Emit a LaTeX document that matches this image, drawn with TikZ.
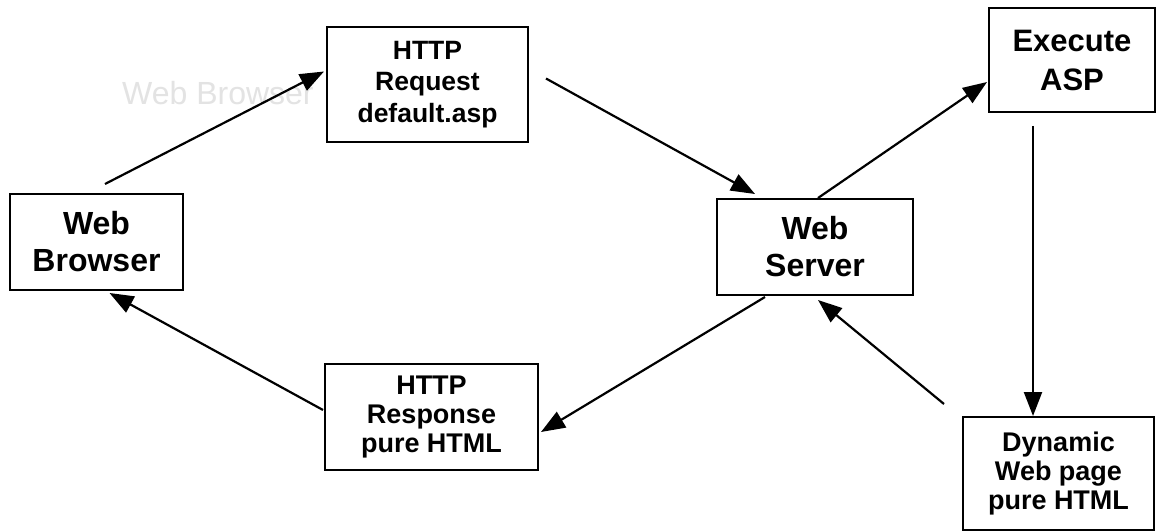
\documentclass[tikz,border=0pt]{standalone}
\usepackage{fontspec}
\setmainfont{Liberation Sans}
\usetikzlibrary{arrows.meta,calc}
\begin{document}
\begin{tikzpicture}[x=1pt,y=-1pt,
  box/.style={draw=black,line width=2pt,fill=white,inner sep=0pt,align=center,font=\bfseries},
  big/.style={font=\fontsize{32}{37}\bfseries\selectfont},
  conn/.style={line width=2.2pt,-{Triangle[length=24pt,width=18pt]}}]
\useasboundingbox (0,0) rectangle (1157,532);
\fill[white] (0,0) rectangle (1157,532);
\node[text=black!11,font=\fontsize{32}{36}\selectfont,anchor=base west,inner sep=0pt] (ghost) at (122,105) {Web Browser};
\node[box,big,minimum width=173pt,minimum height=96pt] (wb) at (96.5,242) {Web\\Browser};
\node[box,font=\fontsize{26.5}{31.5}\bfseries\selectfont,minimum width=201pt,minimum height=115pt] (req) at (427.5,84.5) {HTTP\\Request\\default.asp};
\node[box,font=\fontsize{27}{29}\bfseries\selectfont,minimum width=213pt,minimum height=106pt] (resp) at (431.5,417) {HTTP\\Response\\pure HTML};
\node[box,big,minimum width=196pt,minimum height=96pt] (ws) at (815,247) {Web\\Server};
\node[box,font=\fontsize{31}{39}\bfseries\selectfont,minimum width=166pt,minimum height=104pt] (ex) at (1072,60) {Execute\\ASP};
\node[box,font=\fontsize{27}{29}\bfseries\selectfont,minimum width=191pt,minimum height=113pt] (dyn) at (1058.5,473.5) {Dynamic\\Web page\\pure HTML};
\draw[conn] ($(wb.north)+(8.5,-9)$) -- ($(req.west)+(-2,-13)$);
\draw[conn] ($(req.east)+(17,-6)$) -- ($(ws.north)+(-60,-4)$);
\draw[conn] ($(ws.north)+(3,0)$) -- ($(ex.west)+(-1,22)$);
\draw[conn] ($(ex.south)+(-39,13)$) -- ($(dyn.north)+(-25.5,0)$);
\draw[conn] ($(dyn.north west)+(-18,-12)$) -- ($(ws.south)+(3,4)$);
\draw[conn] ($(ws.south)+(-50,1)$) -- ($(resp.east)+(2,15)$);
\draw[conn] ($(resp.west)+(-1,-7)$) -- ($(wb.south)+(13,2)$);
\end{tikzpicture}
\end{document}
